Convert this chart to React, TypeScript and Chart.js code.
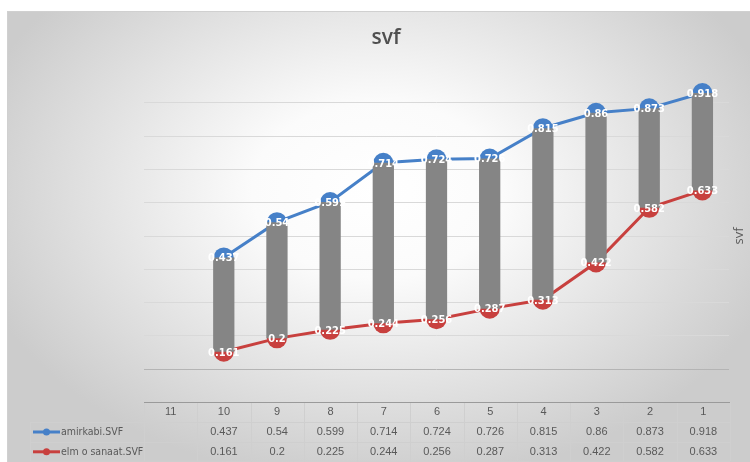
import { useEffect, useRef } from 'react';
import { Chart, registerables } from 'chart.js';

Chart.register(...registerables);

const categories = ['11', '10', '9', '8', '7', '6', '5', '4', '3', '2', '1'];
const amirkabi: (number | null)[] = [null, 0.437, 0.54, 0.599, 0.714, 0.724, 0.726, 0.815, 0.86, 0.873, 0.918];
const elmOSanaat: (number | null)[] = [null, 0.161, 0.2, 0.225, 0.244, 0.256, 0.287, 0.313, 0.422, 0.582, 0.633];
const seriesNames = ['amirkabi.SVF', 'elm o sanaat.SVF'];
const chartTitle = 'svf';
const axisTitle = 'svf';

const BLUE = '#4680c8';
const RED = '#c8403e';
const GRAY_BAR = '#858585';
const TEXT = '#595959';
const NARROW = '"Liberation Sans Narrow", "DejaVu Sans Condensed", sans-serif';

const bgPlugin = {
  id: 'bgPlugin',
  beforeDraw(chart: any) {
    const { ctx, width, height } = chart;
    ctx.save();
    ctx.fillStyle = '#ffffff';
    ctx.fillRect(0, 0, width, height);
    const bx = 7, by = 11;
    ctx.save();
    ctx.beginPath();
    ctx.rect(bx, by, width - bx, height - by);
    ctx.clip();
    ctx.translate(378, 190);
    ctx.scale(1, 0.7);
    const g = ctx.createRadialGradient(0, 0, 0, 0, 0, 420);
    g.addColorStop(0, '#ffffff');
    g.addColorStop(0.3, '#fbfbfb');
    g.addColorStop(1, '#cccccc');
    ctx.fillStyle = g;
    ctx.fillRect(-500, -500, 1000, 1000);
    ctx.restore();
    ctx.strokeStyle = '#d0d0d0';
    ctx.lineWidth = 1;
    ctx.strokeRect(bx + 0.5, by + 0.5, width - bx, height - by);
    ctx.restore();
  },
};

const labelPlugin = {
  id: 'labelPlugin',
  afterDatasetsDraw(chart: any) {
    const { ctx } = chart;
    ctx.save();
    ctx.fillStyle = '#ffffff';
    ctx.font = `bold 11px ${NARROW}`;
    ctx.textAlign = 'center';
    ctx.textBaseline = 'middle';
    [1, 2].forEach((di) => {
      const meta = chart.getDatasetMeta(di);
      const data = chart.data.datasets[di].data;
      meta.data.forEach((pt: any, i: number) => {
        const v = data[i];
        if (v === null || v === undefined) return;
        ctx.fillText(String(v), pt.x, pt.y + 1);
      });
    });
    ctx.restore();
  },
};

const tablePlugin = {
  id: 'tablePlugin',
  afterDraw(chart: any) {
    const { ctx, chartArea } = chart;
    const left = chartArea.left;
    const right = chartArea.right + 1;
    const colW = (right - left) / categories.length;
    const top = chartArea.bottom + 33;
    const rowH = 19.8;
    const bottom = top + rowH * 3 - 0.5;
    const legLeft = 30;
    ctx.save();

    // title
    ctx.fillStyle = '#505050';
    ctx.font = '600 21px "Open Sans", sans-serif';
    ctx.textAlign = 'center';
    ctx.textBaseline = 'middle';
    ctx.fillText(chartTitle, 386, 38);

    // right axis title
    ctx.save();
    ctx.fillStyle = TEXT;
    ctx.translate(739.5, 236);
    ctx.rotate(-Math.PI / 2);
    ctx.font = '13px "Open Sans", sans-serif';
    ctx.fillText(axisTitle, 0, 0);
    ctx.restore();

    // grid lines of the table
    ctx.lineWidth = 1;
    ctx.strokeStyle = '#cfcfcf';
    for (let r = 1; r <= 3; r++) {
      const y = Math.round(top + rowH * r) + 0.5;
      ctx.beginPath();
      ctx.moveTo(legLeft, r === 3 ? bottom : y);
      ctx.lineTo(right, r === 3 ? bottom : y);
      ctx.stroke();
    }
    for (let c = 0; c <= categories.length; c++) {
      const x = Math.round(left + colW * c) + 0.5;
      ctx.beginPath();
      ctx.moveTo(x, top);
      ctx.lineTo(x, bottom);
      ctx.stroke();
    }
    ctx.beginPath();
    ctx.moveTo(legLeft + 0.5, top + rowH);
    ctx.lineTo(legLeft + 0.5, bottom);
    ctx.stroke();
    ctx.strokeStyle = '#9a9a9a';
    ctx.beginPath();
    ctx.moveTo(left, Math.round(top) + 0.5);
    ctx.lineTo(right, Math.round(top) + 0.5);
    ctx.stroke();

    // header and values
    ctx.fillStyle = TEXT;
    ctx.font = '11px "Liberation Sans", sans-serif';
    ctx.textAlign = 'center';
    ctx.textBaseline = 'middle';
    categories.forEach((c, i) => {
      ctx.fillText(c, left + colW * (i + 0.5), top + rowH * 0.5);
    });
    const rows = [amirkabi, elmOSanaat];
    rows.forEach((row, ri) => {
      const y = top + rowH * (ri + 1.5);
      row.forEach((v, i) => {
        if (v === null) return;
        ctx.fillText(String(v), left + colW * (i + 0.5), y);
      });
    });

    // legend keys
    const colors = [BLUE, RED];
    seriesNames.forEach((name, ri) => {
      const y = top + rowH * (ri + 1.5);
      ctx.strokeStyle = colors[ri];
      ctx.lineWidth = 3;
      ctx.beginPath();
      ctx.moveTo(33, y);
      ctx.lineTo(60, y);
      ctx.stroke();
      ctx.fillStyle = colors[ri];
      ctx.beginPath();
      ctx.arc(46.5, y, 3.5, 0, Math.PI * 2);
      ctx.fill();
      ctx.fillStyle = TEXT;
      ctx.textAlign = 'left';
      ctx.font = `10.5px ${NARROW}`;
      ctx.fillText(name, 61, y);
    });
    ctx.restore();
  },
};

export default function App() {
  const ref = useRef<HTMLCanvasElement | null>(null);
  useEffect(() => {
    document.body.style.margin = '0';
    const canvas = ref.current;
    if (!canvas) return;
    const ranges = categories.map((_, i) =>
      amirkabi[i] === null || elmOSanaat[i] === null ? null : [elmOSanaat[i], amirkabi[i]]
    );
    const yMin = 0.1095;
    const yMax = 0.8896;
    const chart = new Chart(canvas, {
      type: 'bar',
      data: {
        labels: categories,
        datasets: [
          {
            type: 'bar',
            label: 'range',
            data: ranges as any,
            backgroundColor: GRAY_BAR,
            borderWidth: 0,
            borderSkipped: false,
            barPercentage: 0.8,
            categoryPercentage: 0.5,
            order: 0,
            clip: false as any,
          },
          {
            type: 'line',
            label: seriesNames[0],
            data: amirkabi,
            borderColor: BLUE,
            backgroundColor: BLUE,
            borderWidth: 3,
            pointRadius: 10,
            pointBorderWidth: 0,
            pointBackgroundColor: BLUE,
            order: 1,
            clip: false as any,
          },
          {
            type: 'line',
            label: seriesNames[1],
            data: elmOSanaat,
            borderColor: RED,
            backgroundColor: RED,
            borderWidth: 3,
            pointRadius: 10,
            pointBorderWidth: 0,
            pointBackgroundColor: RED,
            order: 1,
            clip: false as any,
          },
        ],
      },
      options: {
        responsive: false,
        animation: false,
        layout: { padding: { left: 144, right: 21, top: 102.7, bottom: 92.7 } },
        plugins: {
          legend: { display: false },
          title: { display: false },
          tooltip: { enabled: false },
        },
        scales: {
          x: { display: false },
          y: {
            display: true,
            min: yMin,
            max: yMax,
            afterBuildTicks(scale: any) {
              const n = 8;
              scale.ticks = Array.from({ length: n + 1 }, (_, i) => ({ value: yMin + ((yMax - yMin) * i) / n }));
            },
            ticks: { display: false },
            border: { display: false },
            grid: {
              drawTicks: false,
              color: (c: any) => (c.index === 0 ? '#b4b4b4' : '#d9d9d9'),
              lineWidth: 1,
            },
          },
        },
      },
      plugins: [bgPlugin, labelPlugin, tablePlugin],
    });
    return () => chart.destroy();
  }, []);
  return <canvas ref={ref} width={750} height={462} style={{ display: 'block' }} />;
}
